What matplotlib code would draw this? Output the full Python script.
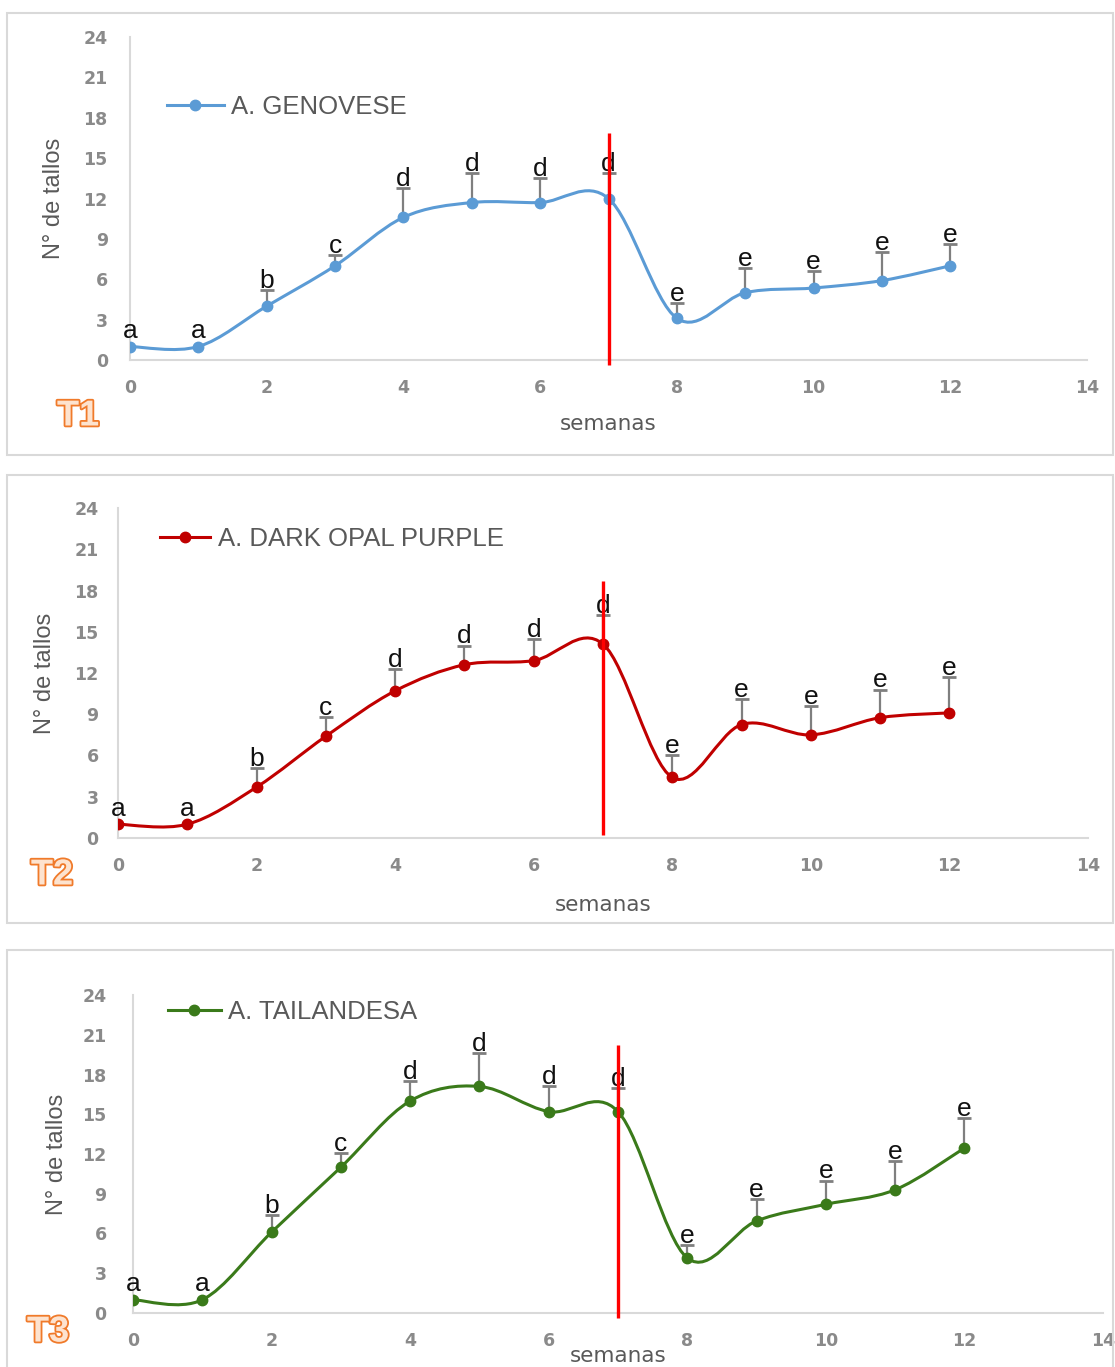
import matplotlib
matplotlib.use("Agg")
import matplotlib.pyplot as plt
from matplotlib.path import Path
from matplotlib.patches import PathPatch, Rectangle
import matplotlib.patheffects as pe
import numpy as np

W, H = 1115, 1367

# ---------------- data ----------------
weeks = [0, 1, 2, 3, 4, 5, 6, 7, 8, 9, 10, 11, 12]
letters = ['a', 'a', 'b', 'c', 'd', 'd', 'd', 'd', 'e', 'e', 'e', 'e', 'e']

genovese_mean = [1.0, 1.0, 4.0, 7.0, 10.6, 11.7, 11.7, 12.0, 3.1, 5.0, 5.35, 5.9, 7.0]
genovese_err = [0, 0, 1.2, 0.8, 2.2, 2.2, 1.8, 1.9, 1.1, 1.8, 1.25, 2.1, 1.6]

purple_mean = [1.0, 1.0, 3.7, 7.4, 10.7, 12.6, 12.9, 14.1, 4.4, 8.25, 7.5, 8.75, 9.1]
purple_err = [0, 0, 1.4, 1.4, 1.6, 1.4, 1.6, 2.1, 1.6, 1.85, 2.1, 2.05, 2.6]

tai_mean = [1.0, 1.0, 6.1, 11.0, 16.0, 17.1, 15.2, 15.2, 4.15, 6.95, 8.2, 9.3, 12.45]
tai_err = [0, 0, 1.3, 1.1, 1.5, 2.5, 1.9, 1.8, 0.95, 1.65, 1.8, 2.2, 2.25]

series_names = ['A. GENOVESE', 'A. DARK OPAL PURPLE', 'A. TAILANDESA']
panel_tags = ['T1', 'T2', 'T3']
cut_week = 7
cut_line_ranges = [(-0.4, 16.9), (0.2, 18.7), (-0.4, 20.2)]

yticks = [0, 3, 6, 9, 12, 15, 18, 21, 24]
xticks = [0, 2, 4, 6, 8, 10, 12, 14]

# ---------------- style ----------------
colors = ['#5b9bd5', '#c00000', '#3a7a1a']
# axes rectangles in pixels: x0, x1, ytop, ybot
rects = [(130, 1087, 37, 360), (118, 1088, 508, 838), (133, 1103, 995, 1313)]
frames = [(7, 13, 1113, 455), (7, 475, 1113, 923), (7, 950, 1113, 1380)]
ylabel_x = [54, 45, 57]
xlabel_y = [424, 905, 1356]
legend_px = [(167, 107, 2.2), (160, 539, 1.95), (168, 1012, 2.05)]
tag_px = [(78, 416), (52, 875), (48, 1332)]
ytick_pad = [16, 14, 19]

fig = plt.figure(figsize=(W / 100, H / 100), dpi=100)

for (fx0, fy0, fx1, fy1) in frames:
    fig.patches.append(Rectangle((fx0 / W, 1 - fy1 / H), (fx1 - fx0) / W, (fy1 - fy0) / H,
                                 transform=fig.transFigure, fill=False,
                                 edgecolor='#d9d9d9', lw=1.5, zorder=0))


def smooth_path(x, y):
    x = np.asarray(x, float)
    y = np.asarray(y, float)
    pts = np.column_stack([x, y])
    n = len(pts)
    verts = [pts[0]]
    codes = [Path.MOVETO]
    for i in range(n - 1):
        p0 = pts[i - 1] if i > 0 else pts[i]
        p1 = pts[i]
        p2 = pts[i + 1]
        p3 = pts[i + 2] if i + 2 < n else pts[i + 1]
        c1 = p1 + (p2 - p0) / 6.0
        c2 = p2 - (p3 - p1) / 6.0
        verts += [c1, c2, p2]
        codes += [Path.CURVE4] * 3
    return Path(verts, codes)


all_means = [genovese_mean, purple_mean, tai_mean]
all_errs = [genovese_err, purple_err, tai_err]

for k in range(3):
    x0, x1, yt, yb = rects[k]
    ax = fig.add_axes([x0 / W, 1 - yb / H, (x1 - x0) / W, (yb - yt) / H])
    ax.set_xlim(0, 14)
    ax.set_ylim(0, 24)
    for s in ['top', 'right']:
        ax.spines[s].set_visible(False)
    for s in ['left', 'bottom']:
        ax.spines[s].set_color('#d9d9d9')
        ax.spines[s].set_linewidth(1.5)
    ax.set_xticks(xticks)
    ax.set_yticks(yticks)
    ax.tick_params(length=0)
    ax.tick_params(axis='y', pad=ytick_pad[k])
    ax.tick_params(axis='x', pad=14)
    for lab in ax.get_xticklabels() + ax.get_yticklabels():
        lab.set_fontfamily('DejaVu Sans')
        lab.set_fontweight('bold')
        lab.set_fontsize(12.5)
        lab.set_color('#8a8a8a')
    ax.patch.set_alpha(0)

    mean = np.array(all_means[k])
    err = np.array(all_errs[k])
    top = mean + err
    col = colors[k]

    # error bars (upper only)
    has = err > 0
    ax.vlines(np.array(weeks)[has], mean[has], top[has], color='#7f7f7f', lw=1.6, zorder=2)
    ax.plot(np.array(weeks)[has], top[has], linestyle='none', marker='_',
            markersize=10, markeredgewidth=2.0, color='#7f7f7f', zorder=2)

    # smoothed line
    ax.add_patch(PathPatch(smooth_path(weeks, mean), fill=False, edgecolor=col,
                           lw=2.2, zorder=3, capstyle='round'))
    ax.plot(weeks, mean, linestyle='none', marker='o', markersize=7.5,
            color=col, zorder=4)
    # legend proxy
    ax.plot([], [], color=col, lw=2.2, marker='o', markersize=7.5, label=series_names[k])

    # significance letters
    for xi, ti, ei, lt in zip(weeks, top, err, letters):
        off = 1.5 if ei > 0 else 6
        ax.annotate(lt, (xi, ti), xytext=(0, off), textcoords='offset points',
                    ha='center', va='baseline', fontsize=19,
                    family='Liberation Sans', color='#111111', zorder=5)

    # cut line
    ax.plot([cut_week, cut_week], list(cut_line_ranges[k]), color='#ff0000',
            lw=2.4, zorder=6, clip_on=False, solid_capstyle='butt')

    # axis labels
    ax.set_ylabel('N° de tallos', family='Liberation Sans', fontsize=17, color='#595959')
    ax.yaxis.label.set_verticalalignment('center')
    ax.yaxis.set_label_coords((ylabel_x[k] - x0) / (x1 - x0), 0.5)
    ax.set_xlabel('semanas', family='DejaVu Sans', fontsize=15.5, color='#595959')
    ax.xaxis.label.set_verticalalignment('center')
    ax.xaxis.set_label_coords(0.5, (yb - xlabel_y[k]) / (yb - yt))

    # legend
    lx, ly, hl = legend_px[k]
    leg = ax.legend(loc='center left', bbox_to_anchor=((lx - x0) / (x1 - x0), (yb - ly) / (yb - yt)),
                    frameon=False, borderpad=0, borderaxespad=0, handlelength=hl,
                    handletextpad=0.3, prop={'family': 'Liberation Sans', 'size': 18.5})
    for t in leg.get_texts():
        t.set_color('#595959')

    # panel tag
    tx, ty = tag_px[k]
    fig.text(tx / W, 1 - ty / H, panel_tags[k], ha='center', va='center',
             fontsize=26, fontweight='bold', family='Liberation Sans',
             color='#fde3cf',
             path_effects=[pe.withStroke(linewidth=2.6, foreground='#f07a2a')])

fig.savefig('out.png', dpi=100)
